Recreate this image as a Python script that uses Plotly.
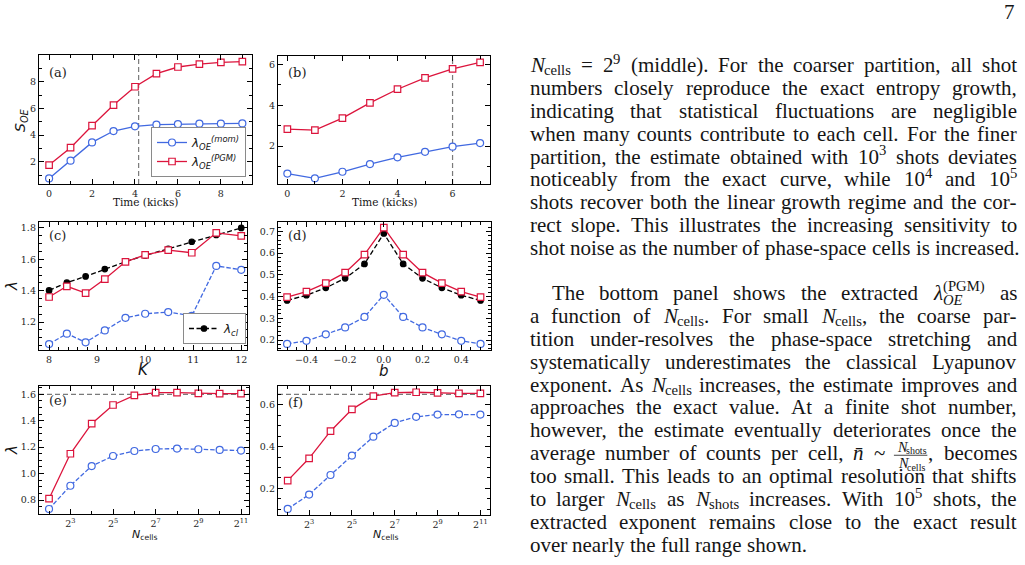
import plotly.graph_objects as go

W, H = 1025, 565

# ---------------- data ----------------
time_a = [0, 1, 2, 3, 4, 5, 6, 7, 8, 9]
S_mom_a = [0.75, 2.08, 3.45, 4.30, 4.65, 4.78, 4.82, 4.85, 4.85, 4.87]
S_pgm_a = [1.75, 3.05, 4.70, 6.25, 7.62, 8.60, 9.10, 9.32, 9.45, 9.50]
t_mark_a = 4.17

time_b = [0, 1, 2, 3, 4, 5, 6, 7]
S_mom_b = [0.65, 0.42, 0.74, 1.12, 1.45, 1.72, 1.97, 2.15]
S_pgm_b = [2.83, 2.78, 3.37, 4.12, 4.79, 5.35, 5.79, 6.11]
t_mark_b = 6

K_vals = [8.0, 8.37, 8.76, 9.16, 9.59, 10.0, 10.48, 10.97, 11.48, 12.0]
lam_cl_K = [1.402, 1.451, 1.491, 1.538, 1.585, 1.625, 1.667, 1.712, 1.755, 1.800]
lam_pgm_K = [1.360, 1.428, 1.385, 1.474, 1.584, 1.629, 1.659, 1.642, 1.769, 1.750]
lam_mom_K = [1.060, 1.126, 1.071, 1.147, 1.227, 1.253, 1.264, 1.239, 1.558, 1.533]

b_vals = [-0.5, -0.4, -0.3, -0.2, -0.1, 0.0, 0.1, 0.2, 0.3, 0.4, 0.5]
lam_pgm_b = [0.397, 0.423, 0.462, 0.510, 0.593, 0.717, 0.593, 0.510, 0.462, 0.423, 0.397]
lam_cl_b = [0.382, 0.406, 0.440, 0.484, 0.550, 0.690, 0.550, 0.484, 0.440, 0.406, 0.382]
lam_mom_b = [0.182, 0.196, 0.226, 0.258, 0.306, 0.408, 0.306, 0.258, 0.226, 0.196, 0.182]

n_cells = [4, 8, 16, 32, 64, 128, 256, 512, 1024, 2048]
lam_pgm_e = [0.810, 1.150, 1.378, 1.519, 1.592, 1.613, 1.613, 1.607, 1.605, 1.605]
lam_mom_e = [0.732, 0.908, 1.057, 1.133, 1.171, 1.186, 1.189, 1.184, 1.179, 1.174]
lam_exact_e = 1.6
lam_pgm_f = [0.237, 0.344, 0.474, 0.579, 0.642, 0.659, 0.661, 0.658, 0.656, 0.656]
lam_mom_f = [0.101, 0.170, 0.264, 0.357, 0.448, 0.514, 0.543, 0.554, 0.555, 0.554]
lam_exact_f = 0.651

ncell_ticks = [8, 32, 128, 512, 2048]
ncell_ticktext = ['2<sup>3</sup>', '2<sup>5</sup>', '2<sup>7</sup>', '2<sup>9</sup>', '2<sup>11</sup>']
ncell_minor = [4, 16, 64, 256, 1024]

page_number = '7'
para1 = [
    "$N$_{cells} = 2^{9} (middle). For the coarser partition, all shot",
    "numbers closely reproduce the exact entropy growth,",
    "indicating that statistical fluctuations are negligible",
    "when many counts contribute to each cell. For the finer",
    "partition, the estimate obtained with 10^{3} shots deviates",
    "noticeably from the exact curve, while 10^{4} and 10^{5}",
    "shots recover both the linear growth regime and the cor-",
    "rect slope. This illustrates the increasing sensitivity to",
    "shot noise as the number of phase-space cells is increased.",
]
para2 = [
    "The bottom panel shows the extracted $λ$_{$OE$}^{(PGM)} as",
    "a function of $N$_{cells}. For small $N$_{cells}, the coarse par-",
    "tition under-resolves the phase-space stretching and",
    "systematically underestimates the classical Lyapunov",
    "exponent. As $N$_{cells} increases, the estimate improves and",
    "approaches the exact value. At a finite shot number,",
    "however, the estimate eventually deteriorates once the",
    "average number of counts per cell, $n̄$ ~ \\frac{$N$_{shots}}{$N$_{cells}}, becomes",
    "too small. This leads to an optimal resolution that shifts",
    "to larger $N$_{cells} as $N$_{shots} increases. With 10^{5} shots, the",
    "extracted exponent remains close to the exact result",
    "over nearly the full range shown.",
]

# ---------------- styles ----------------
BLUE = '#4169E1'
RED = '#DC143C'
GRAY = '#7a7a7a'
TXT = '#151515'
SERIF = 'Liberation Serif'
TICKFONT = dict(family='DejaVu Serif', size=9.5, color='#262626')

# panel frames in pixels: x0, x1, ytop, ybottom
frames = {
    'a': (39, 252, 55, 184),
    'b': (278, 490, 56, 184),
    'c': (39, 247, 222, 350),
    'd': (278, 491, 222, 350),
    'e': (39, 249, 386, 514),
    'f': (278, 490, 386, 515),
}


def dom(key):
    x0, x1, yt, yb = frames[key]
    return [x0 / W, x1 / W], [1 - yb / H, 1 - yt / H]


def axis(domain, rng, tickvals, minor, anchor, fmt=None, ticktext=None, typ='linear'):
    d = dict(domain=domain, range=rng, anchor=anchor, type=typ, tickmode='array',
             tickvals=tickvals, showline=True, linecolor='black', linewidth=1.3,
             mirror='allticks', ticks='inside', ticklen=4.5, tickwidth=1,
             tickcolor='black', showgrid=False, zeroline=False, tickfont=TICKFONT,
             minor=dict(ticks='inside', ticklen=2.5, tickwidth=0.8, tickcolor='black',
                        showgrid=False, **minor))
    if fmt:
        d['tickformat'] = fmt
    if ticktext:
        d['ticktext'] = ticktext
    return d


def lin(step):
    return dict(tickmode='linear', tick0=0, dtick=step)


layout = dict(width=W, height=H, margin=dict(l=0, r=0, t=0, b=0),
              paper_bgcolor='white', plot_bgcolor='white', showlegend=True)

log2_10 = 0.30103
specs = {
    'a': dict(x=dict(rng=[-0.47, 9.45], tv=[0, 2, 4, 6, 8], mn=lin(1)),
              y=dict(rng=[0.33, 10.0], tv=[2, 4, 6, 8], mn=lin(1))),
    'b': dict(x=dict(rng=[-0.34, 7.36], tv=[0, 2, 4, 6], mn=lin(1)),
              y=dict(rng=[0.14, 6.42], tv=[2, 4, 6], mn=lin(1))),
    'c': dict(x=dict(rng=[7.79, 12.12], tv=[8, 9, 10, 11, 12], mn=lin(0.2)),
              y=dict(rng=[1.022, 1.838], tv=[1.2, 1.4, 1.6, 1.8], mn=lin(0.05), fmt='.1f')),
    'd': dict(x=dict(rng=[-0.547, 0.554], tv=[-0.4, -0.2, 0.0, 0.2, 0.4], mn=lin(0.05), fmt='.1f'),
              y=dict(rng=[0.154, 0.743], tv=[0.2, 0.3, 0.4, 0.5, 0.6, 0.7], mn=lin(0.02), fmt='.1f')),
    'e': dict(x=dict(rng=[1.53 * log2_10, 11.375 * log2_10], tv=ncell_ticks,
                     mn=dict(tickmode='array', tickvals=ncell_minor), tt=ncell_ticktext, typ='log'),
              y=dict(rng=[0.694, 1.663], tv=[0.8, 1.0, 1.2, 1.4, 1.6], mn=lin(0.05), fmt='.1f')),
    'f': dict(x=dict(rng=[1.547 * log2_10, 11.45 * log2_10], tv=ncell_ticks,
                     mn=dict(tickmode='array', tickvals=ncell_minor), tt=ncell_ticktext, typ='log'),
              y=dict(rng=[0.072, 0.691], tv=[0.2, 0.4, 0.6], mn=lin(0.05), fmt='.1f')),
}
ids = {'a': '', 'b': '2', 'c': '3', 'd': '4', 'e': '5', 'f': '6'}
for k, sp in specs.items():
    xd, yd = dom(k)
    n = ids[k]
    sx, sy = sp['x'], sp['y']
    layout['xaxis' + n] = axis(xd, sx['rng'], sx['tv'], sx['mn'], 'y' + n,
                               fmt=sx.get('fmt'), ticktext=sx.get('tt'), typ=sx.get('typ', 'linear'))
    layout['yaxis' + n] = axis(yd, sy['rng'], sy['tv'], sy['mn'], 'x' + n, fmt=sy.get('fmt'))

traces = []


def line_trace(x, y, panel, color, symbol, dash='solid', size=7, name=None, legend=None, fill='white'):
    n = ids[panel]
    t = go.Scatter(x=x, y=y, xaxis='x' + n, yaxis='y' + n, mode='lines+markers',
                   line=dict(color=color, width=1.3, dash=dash),
                   marker=dict(symbol=symbol, size=size, color=fill,
                               line=dict(color=color, width=1.2)),
                   showlegend=name is not None, name=name or '', hoverinfo='skip')
    if legend:
        t.legend = legend
    traces.append(t)


DASH = '4.5px,2px'
KDASH = '5px,2.5px'
mom_name = '<i>λ</i><sub><i>OE</i></sub><sup><i>(mom)</i></sup>'
pgm_name = '<i>λ</i><sub><i>OE</i></sub><sup><i>(PGM)</i></sup>'

line_trace(time_a, S_mom_a, 'a', BLUE, 'circle', name=mom_name, legend='legend')
line_trace(time_a, S_pgm_a, 'a', RED, 'square', size=6.5, name=pgm_name, legend='legend')
line_trace(time_b, S_mom_b, 'b', BLUE, 'circle')
line_trace(time_b, S_pgm_b, 'b', RED, 'square', size=6.5)
line_trace(K_vals, lam_cl_K, 'c', 'black', 'circle', dash=KDASH, size=5.5, fill='black',
           name='<i>λ</i><sub><i>cl</i></sub>', legend='legend2')
line_trace(K_vals, lam_mom_K, 'c', BLUE, 'circle', dash=DASH)
line_trace(K_vals, lam_pgm_K, 'c', RED, 'square', size=6.5)
line_trace(b_vals, lam_cl_b, 'd', 'black', 'circle', dash=KDASH, size=5.5, fill='black')
line_trace(b_vals, lam_mom_b, 'd', BLUE, 'circle', dash=DASH)
line_trace(b_vals, lam_pgm_b, 'd', RED, 'square', size=6.5)
line_trace(n_cells, lam_mom_e, 'e', BLUE, 'circle', dash=DASH)
line_trace(n_cells, lam_pgm_e, 'e', RED, 'square', size=6.5)
line_trace(n_cells, lam_mom_f, 'f', BLUE, 'circle', dash=DASH)
line_trace(n_cells, lam_pgm_f, 'f', RED, 'square', size=6.5)

legend_common = dict(xref='paper', yref='paper', xanchor='right', yanchor='bottom',
                     bgcolor='white', bordercolor='#8a8a8a', borderwidth=1,
                     font=dict(family='DejaVu Sans', size=12, color=TXT),
                     itemwidth=30, tracegroupgap=0)
layout['legend'] = dict(x=246 / W, y=1 - 177 / H, **legend_common)
layout['legend2'] = dict(x=246 / W, y=1 - 344 / H, **legend_common)

shapes = [
    dict(type='line', xref='x', yref='y domain', x0=t_mark_a, x1=t_mark_a, y0=0, y1=1,
         line=dict(color=GRAY, width=1.2, dash='5px,3px'), layer='below'),
    dict(type='line', xref='x2', yref='y2 domain', x0=t_mark_b, x1=t_mark_b, y0=0, y1=1,
         line=dict(color=GRAY, width=1.2, dash='5px,3px'), layer='below'),
    dict(type='line', xref='x5 domain', yref='y5', x0=0, x1=1, y0=lam_exact_e, y1=lam_exact_e,
         line=dict(color=GRAY, width=1.2, dash='5px,3px'), layer='below'),
    dict(type='line', xref='x6 domain', yref='y6', x0=0, x1=1, y0=lam_exact_f, y1=lam_exact_f,
         line=dict(color=GRAY, width=1.2, dash='5px,3px'), layer='below'),
]
annotations = []


def put(text, x_px, cy_px, size, italic=False, family=SERIF, color=TXT, xanchor='left',
        angle=0):
    annotations.append(dict(text=text, x=x_px / W, y=1 - cy_px / H, xref='paper', yref='paper',
                            xanchor=xanchor, yanchor='middle', showarrow=False, borderpad=0,
                            textangle=angle,
                            font=dict(family=family, size=size, color=color,
                                      style='italic' if italic else 'normal')))


# panel labels
for lab, (px, py) in {'(a)': (48, 72), '(b)': (287, 72), '(c)': (48, 236),
                      '(d)': (287, 236), '(e)': (48, 401), '(f)': (287, 402)}.items():
    put(lab, px, py, 13, family='DejaVu Serif', color='#222')

# axis titles
SANS = 'DejaVu Sans'
put('<i>S</i><sub><i>OE</i></sub>', 21, 120, 14, family=SANS, xanchor='center', angle=-90)
put('Time (kicks)', 145.5, 202, 10.5, family='DejaVu Serif', xanchor='center')
put('Time (kicks)', 384, 202, 10.5, family='DejaVu Serif', xanchor='center')
put('<i>λ</i>', 12, 286, 15, family=SANS, xanchor='center', angle=-90)
put('<i>K</i>', 143, 369.5, 15, family=SANS, xanchor='center')
put('<i>b</i>', 384, 370.5, 15, family=SANS, xanchor='center')
put('<i>λ</i>', 12, 450, 15, family=SANS, xanchor='center', angle=-90)
put('<i>N</i><sub>cells</sub>', 144, 535, 11, family=SANS, xanchor='center')
put('<i>N</i><sub>cells</sub>', 385, 535, 11, family=SANS, xanchor='center')

# ---------------- body text with justification ----------------
TR = {' ': 250, '!': 333, '(': 333, ')': 333, ',': 250, '-': 333, '.': 250, '=': 564,
      '~': 541, ':': 278, ';': 278, '0': 500, '1': 500, '2': 500, '3': 500, '4': 500,
      '5': 500, '6': 500, '7': 500, '8': 500, '9': 500,
      'A': 722, 'B': 667, 'C': 667, 'D': 722, 'E': 611, 'F': 556, 'G': 722, 'H': 722,
      'I': 333, 'J': 389, 'K': 722, 'L': 611, 'M': 889, 'N': 722, 'O': 722, 'P': 556,
      'Q': 722, 'R': 667, 'S': 556, 'T': 611, 'U': 722, 'V': 722, 'W': 944, 'X': 722,
      'Y': 722, 'Z': 611,
      'a': 444, 'b': 500, 'c': 444, 'd': 500, 'e': 444, 'f': 333, 'g': 500, 'h': 500,
      'i': 278, 'j': 278, 'k': 500, 'l': 278, 'm': 778, 'n': 500, 'o': 500, 'p': 500,
      'q': 500, 'r': 333, 's': 389, 't': 278, 'u': 500, 'v': 500, 'w': 722, 'x': 500,
      'y': 500, 'z': 444, 'λ': 500}
TI = {'A': 611, 'B': 611, 'C': 667, 'D': 722, 'E': 611, 'N': 667, 'O': 722, 'P': 611,
      'a': 500, 'b': 500, 'c': 444, 'e': 444, 'h': 500, 'l': 278, 'n': 500, 'o': 500,
      's': 389, 't': 278, 'λ': 500}


def text_w(t, italic, size):
    w = 0
    for ch in t:
        if '\u0300' <= ch <= '\u036f':
            continue
        w += (TI.get(ch) if italic and ch in TI else TR.get(ch, 500))
    return w * size / 1000.0


def parse(word):
    segs = []
    state = {'it': False, 'kind': 'n', 'buf': ''}

    def flush():
        if state['buf']:
            segs.append((state['buf'], state['it'], state['kind']))
            state['buf'] = ''
    i = 0
    while i < len(word):
        c = word[i]
        if c == '$':
            flush(); state['it'] = not state['it']; i += 1
        elif c in '_^' and i + 1 < len(word) and word[i + 1] == '{':
            flush(); state['kind'] = 'sub' if c == '_' else 'sup'; i += 2
        elif c == '}' and state['kind'] != 'n':
            flush(); state['kind'] = 'n'; i += 1
        else:
            state['buf'] += c; i += 1
    flush()
    return segs


def layout_simple(word, size):
    segs = parse(word)
    pieces = []
    x = 0.0
    i = 0
    while i < len(segs):
        t, it, k = segs[i]
        if k == 'n':
            pieces.append((t, it, size, x, 0.0))
            x += text_w(t, it, size)
            i += 1
        else:
            group = []
            while i < len(segs) and segs[i][2] != 'n':
                group.append(segs[i]); i += 1
            both = len(set(g[2] for g in group)) == 2
            ss = size * 0.7
            xs = {'sub': x, 'sup': x}
            for t2, it2, k2 in group:
                dy = -0.40 * size if k2 == 'sup' else (0.25 if both else 0.16) * size
                pieces.append((t2, it2, ss, xs[k2], dy))
                xs[k2] += text_w(t2, it2, ss)
            x = max(xs.values())
    return pieces, x, []


def split_frac(word):
    i = len('\\frac')
    parts = []
    for _ in range(2):
        depth = 0
        j = i
        while True:
            if word[j] == '{':
                depth += 1
            elif word[j] == '}':
                depth -= 1
                if depth == 0:
                    break
            j += 1
        parts.append(word[i + 1:j])
        i = j + 1
    return parts[0], parts[1], word[i:]


def layout_word(word, size):
    if not word.startswith('\\frac'):
        return layout_simple(word, size)
    num, den, rest = split_frac(word)
    fs = size * 0.68
    pn, wn, _ = layout_simple(num, fs)
    pd, wd, _ = layout_simple(den, fs)
    pad = 0.08 * size
    w = max(wn, wd) + 2 * pad
    pieces = []
    for (t, it, s, dx, dy) in pn:
        pieces.append((t, it, s, dx + (w - wn) / 2, dy - 0.40 * size))
    for (t, it, s, dx, dy) in pd:
        pieces.append((t, it, s, dx + (w - wd) / 2, dy + 0.38 * size))
    bars = [(0.0, w, -0.24 * size)]
    pr, wr, _ = layout_simple(rest, size)
    for (t, it, s, dx, dy) in pr:
        pieces.append((t, it, s, dx + w, dy))
    return pieces, w + wr, bars


FS = 21
LEFT, RIGHT = 528.5, 1016.0
CENTER_SHIFT = 0.3375  # text-box centre above the baseline, in em


def set_lines(lines, base0, step, indent_first=0.0):
    for li, line in enumerate(lines):
        B = base0 + li * step
        x0 = LEFT + (indent_first if li == 0 else 0.0)
        words = [layout_word(wd, FS) for wd in line.split(' ')]
        total = sum(w for _, w, _ in words)
        last = li == len(lines) - 1
        gap = 0.25 * FS if last else (RIGHT - x0 - total) / (len(words) - 1)
        x = x0
        for pieces, w, bars in words:
            for (t, it, s, dx, dy) in pieces:
                put(t, x + dx, B + dy - CENTER_SHIFT * s, s, italic=it)
            for (bx0, bx1, by) in bars:
                shapes.append(dict(type='line', xref='paper', yref='paper',
                                   x0=(x + bx0) / W, x1=(x + bx1) / W,
                                   y0=1 - (B + by) / H, y1=1 - (B + by) / H,
                                   line=dict(color=TXT, width=0.8)))
            x += w + gap


set_lines(para1, 72.0, 22.9)
set_lines(para2, 300.0, 22.9, indent_first=22.0)
put(page_number, 1016, 19.5 - CENTER_SHIFT * FS, FS, xanchor='right')

layout['shapes'] = shapes
layout['annotations'] = annotations

fig = go.Figure(data=traces, layout=layout)
fig.write_html('out.html')
